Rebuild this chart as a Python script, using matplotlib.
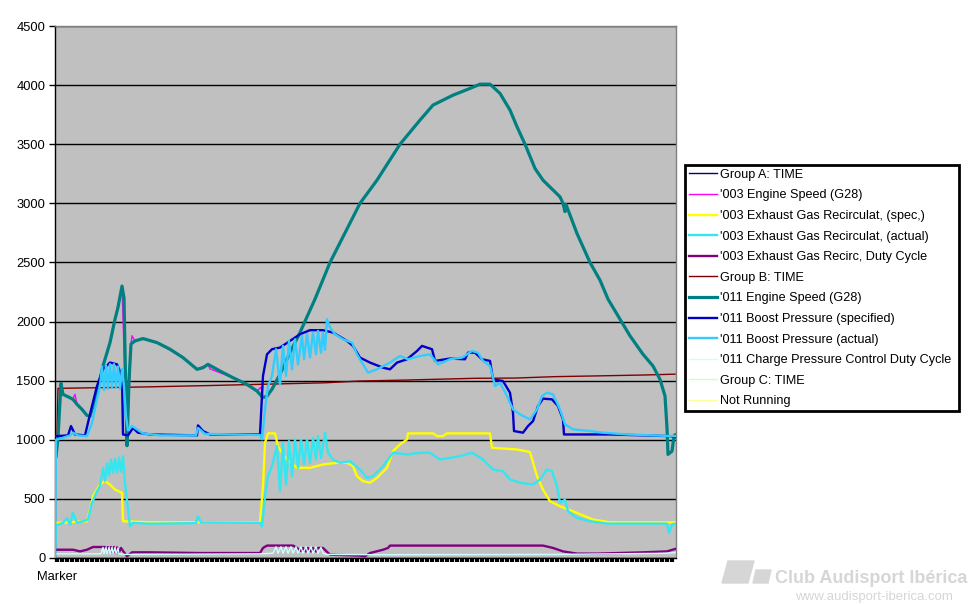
import matplotlib
matplotlib.use("Agg")
import matplotlib.pyplot as plt
from matplotlib.patches import Polygon

plt.rcParams['font.family'] = ['Liberation Sans', 'DejaVu Sans']

# eje x: numero de muestra
categoria = "Marker"
y_ticks = [0, 500, 1000, 1500, 2000, 2500, 3000, 3500, 4000, 4500]

# '011 Engine Speed (G28)
rpm_x = [1, 3, 6, 8, 13, 18, 22, 27, 32, 35, 42, 48, 55, 60, 63, 67, 69, 71, 72, 74, 76, 80, 88,
         102, 115, 128, 142, 148, 153, 165, 178, 192, 202, 208, 212, 217, 225, 235, 245, 252, 260,
         275, 305, 322, 345, 365, 378, 398, 415, 425, 435, 445, 455, 462, 470, 480, 488, 505, 508,
         510, 511, 522, 535, 545, 553, 565, 575, 588, 598, 605, 610, 612, 613, 617, 619, 620]
rpm_y = [860, 1020, 1477, 1384, 1364, 1342, 1300, 1257, 1206, 1200, 1398, 1624, 1822, 2020, 2120,
         2300, 2200, 1300, 950, 1500, 1810, 1836, 1856, 1822, 1766, 1695, 1596, 1610, 1638, 1582,
         1525, 1469, 1412, 1356, 1370, 1427, 1554, 1737, 1907, 2040, 2190, 2500, 3000, 3196, 3500,
         3704, 3831, 3915, 3972, 4008, 4008, 3930, 3789, 3648, 3500, 3295, 3196, 3055, 3000, 2930,
         2990, 2745, 2500, 2350, 2190, 2020, 1879, 1723, 1624, 1511, 1370, 1100, 876, 904, 1031, 1040]

# '003 Engine Speed (G28)
rpm3_x = [1, 3, 6, 8, 13, 18, 20, 22, 27, 32, 35, 42, 48, 55, 60, 67, 72, 76, 77, 80, 88, 102,
          128, 142, 153, 155, 178, 202, 206, 208, 212, 225, 245]
rpm3_y = [860, 1020, 1470, 1380, 1360, 1345, 1385, 1300, 1260, 1210, 1200, 1398, 1624, 1822, 2020,
          2300, 950, 1810, 1880, 1836, 1856, 1822, 1695, 1596, 1638, 1600, 1525, 1412, 1445, 1356,
          1370, 1554, 1907]

# '011 Boost Pressure (specified)
boost_sp_x = [0, 13, 16, 20, 30, 33, 37, 42, 48, 55, 62, 67, 68, 73, 78, 83, 95, 142, 143, 148,
              155, 205, 208, 212, 217, 225, 235, 245, 255, 268, 278, 292, 298, 305, 315, 328, 335,
              342, 352, 362, 367, 377, 380, 395, 410, 413, 420, 427, 435, 438, 448, 455, 458, 459,
              468, 473, 478, 483, 488, 497, 503, 508, 509, 555, 615, 620]
boost_sp_y = [1030, 1037, 1116, 1045, 1037, 1144, 1285, 1455, 1596, 1653, 1638, 1540, 1045, 1037,
              1100, 1060, 1045, 1037, 1122, 1074, 1045, 1045, 1540, 1723, 1766, 1780, 1836, 1893,
              1927, 1927, 1907, 1836, 1794, 1695, 1653, 1610, 1596, 1653, 1681, 1751, 1794, 1766,
              1667, 1687, 1681, 1737, 1737, 1681, 1667, 1511, 1497, 1398, 1229, 1074, 1060, 1116,
              1158, 1285, 1348, 1342, 1285, 1172, 1045, 1045, 1031, 1023]

# '011 Boost Pressure (actual)
boost_ac_x = [0, 1, 8, 15, 18, 23, 32, 37, 42, 45, 47, 49, 51, 53, 55, 57, 59, 61, 63, 65, 67, 69,
              71, 73, 77, 82, 88, 105, 141, 143, 150, 205, 207, 210, 213, 217, 221, 225, 228, 231,
              234, 237, 240, 243, 247, 249, 252, 255, 258, 261, 263, 266, 268, 270, 272, 275, 280,
              288, 297, 302, 313, 322, 335, 345, 353, 365, 375, 383, 395, 407, 417, 423, 428, 435,
              440, 445, 452, 458, 465, 475, 482, 487, 492, 498, 505, 510, 518, 535, 548, 572, 618, 620]
boost_ac_y = [0, 1000, 1017, 1037, 1060, 1037, 1031, 1144, 1342, 1455, 1620, 1420, 1630, 1430, 1640,
              1440, 1640, 1440, 1620, 1430, 1600, 1450, 1200, 1080, 1116, 1088, 1054, 1037, 1037,
              1100, 1050, 1040, 1003, 1257, 1455, 1540, 1766, 1469, 1794, 1540, 1836, 1596, 1850,
              1638, 1879, 1681, 1893, 1695, 1907, 1723, 1921, 1737, 1907, 1760, 2020, 1950, 1893,
              1850, 1822, 1723, 1568, 1596, 1653, 1709, 1681, 1709, 1723, 1638, 1681, 1695, 1751,
              1737, 1667, 1624, 1455, 1483, 1370, 1257, 1215, 1172, 1257, 1370, 1398, 1384, 1257,
              1130, 1088, 1074, 1060, 1045, 1031, 1031]

# '003 Exhaust Gas Recirculat, (spec,)
egr_sp_x = [2, 32, 35, 38, 45, 50, 55, 60, 67, 68, 95, 205, 208, 210, 213, 220, 223, 227, 232, 242,
            255, 268, 282, 292, 298, 302, 308, 315, 322, 332, 338, 345, 352, 353, 378, 382, 388, 392,
            435, 437, 462, 475, 482, 488, 495, 505, 522, 538, 555, 620]
egr_sp_y = [297, 311, 410, 523, 622, 650, 622, 579, 551, 311, 302, 302, 607, 975, 1054, 1054, 946,
            890, 833, 763, 763, 791, 805, 805, 777, 692, 650, 636, 678, 763, 904, 960, 1003, 1054,
            1054, 1031, 1031, 1054, 1054, 932, 918, 896, 692, 579, 480, 438, 381, 325, 302, 302]

# '003 Exhaust Gas Recirculat, (actual)
egr_ac_x = [0, 1, 3, 8, 12, 15, 18, 22, 28, 33, 37, 42, 45, 48, 50, 52, 54, 56, 58, 60, 62, 64, 66,
            68, 70, 73, 75, 78, 95, 141, 143, 146, 205, 207, 210, 213, 217, 222, 225, 228, 231, 234,
            237, 240, 243, 246, 249, 252, 255, 258, 261, 263, 266, 270, 273, 278, 285, 295, 305, 312,
            318, 328, 338, 352, 365, 375, 385, 405, 417, 428, 438, 448, 455, 465, 478, 485, 492, 497,
            502, 505, 510, 513, 522, 535, 552, 612, 614, 617, 620]
egr_ac_y = [0, 282, 282, 297, 339, 282, 381, 297, 311, 325, 466, 565, 607, 760, 650, 800, 700, 830,
            720, 840, 720, 850, 730, 860, 636, 410, 268, 297, 290, 295, 353, 300, 297, 268, 523, 692,
            777, 946, 565, 975, 622, 989, 692, 1003, 763, 1003, 791, 1003, 805, 1017, 833, 1031, 847,
            1060, 890, 833, 805, 819, 749, 678, 692, 777, 890, 876, 890, 890, 833, 862, 890, 833, 749,
            734, 664, 636, 622, 664, 749, 734, 607, 466, 494, 396, 339, 311, 291, 291, 212, 282, 291]

# '003 Exhaust Gas Recirc, Duty Cycle
egr_dc_x = [2, 18, 25, 32, 38, 45, 50, 52, 53, 55, 56, 58, 59, 61, 62, 64, 66, 68, 72, 77, 95, 145,
            205, 208, 212, 238, 242, 246, 248, 251, 253, 256, 258, 261, 263, 268, 275, 305, 310, 315,
            328, 333, 335, 488, 498, 508, 522, 542, 588, 612, 620]
egr_dc_y = [70, 70, 56, 70, 93, 93, 93, 60, 93, 50, 93, 45, 93, 40, 90, 50, 85, 60, 14, 48, 48, 42,
            42, 85, 105, 105, 85, 60, 85, 55, 85, 55, 85, 55, 85, 85, 28, 20, 14, 42, 70, 85, 105, 105,
            85, 56, 37, 37, 48, 56, 76]

# Group B: TIME
time_b_x = [2, 3, 40, 90, 150, 210, 270, 305, 350, 420, 460, 500, 540, 590, 620]
time_b_y = [1030, 1435, 1440, 1447, 1458, 1470, 1482, 1497, 1505, 1520, 1522, 1534, 1540, 1548, 1555]

# '011 Charge Pressure Control Duty Cycle
cpc_x = [2, 46, 48, 49, 51, 52, 54, 55, 57, 58, 60, 61, 63, 64, 70, 205, 218, 221, 223, 226, 228,
         231, 233, 236, 238, 241, 243, 246, 248, 251, 253, 256, 258, 261, 263, 266, 268, 272, 320,
         500, 610, 620]
cpc_y = [35, 35, 90, 35, 90, 35, 90, 35, 90, 35, 90, 35, 85, 35, 30, 35, 40, 95, 40, 95, 40, 95, 40,
         95, 40, 95, 40, 95, 40, 95, 40, 95, 40, 95, 40, 90, 40, 30, 28, 30, 40, 45]

# series sin datos visibles
time_a_x, time_a_y = [], []
time_c_x, time_c_y = [], []
not_run_x, not_run_y = [], []

fig = plt.figure(figsize=(9.7, 6.04), dpi=100)
ax = fig.add_axes([55/970, 46/604, 621/970, 532/604])
ax.set_facecolor('#C0C0C0')

series = [
    (time_a_x, time_a_y, 'Group A: TIME', '#000080', 1.0),
    (rpm3_x, rpm3_y, "'003 Engine Speed (G28)", '#FF00FF', 1.0),
    (egr_sp_x, egr_sp_y, "'003 Exhaust Gas Recirculat, (spec,)", '#FFFF00', 1.7),
    (egr_ac_x, egr_ac_y, "'003 Exhaust Gas Recirculat, (actual)", '#33E6F0', 1.7),
    (egr_dc_x, egr_dc_y, "'003 Exhaust Gas Recirc, Duty Cycle", '#800080', 1.7),
    (time_b_x, time_b_y, 'Group B: TIME', '#800000', 1.0),
    (rpm_x, rpm_y, "'011 Engine Speed (G28)", '#008080', 2.3),
    (boost_sp_x, boost_sp_y, "'011 Boost Pressure (specified)", '#0000CC', 1.7),
    (boost_ac_x, boost_ac_y, "'011 Boost Pressure (actual)", '#33CCFF', 1.7),
    (cpc_x, cpc_y, "'011 Charge Pressure Control Duty Cycle", '#CCFFFF', 1.0),
    (time_c_x, time_c_y, 'Group C: TIME', '#CCFFCC', 1.0),
    (not_run_x, not_run_y, 'Not Running', '#FFFF99', 1.0),
]
for i, (xs, ys, nombre, color, lw) in enumerate(series):
    ax.plot(xs, ys, color=color, lw=lw, label=nombre, zorder=3 + i * 0.01)

ax.set_xlim(0, 621)
ax.set_ylim(0, 4500)
ax.set_yticks(y_ticks)
ax.set_yticklabels([str(v) for v in y_ticks], fontsize=9.3)
ax.yaxis.grid(True, color='black', lw=1)
ax.set_axisbelow(True)

pos = [2.5 + 5 * k for k in range(124)]
ax.set_xticks(pos)
ax.set_xticklabels([categoria] + [''] * (len(pos) - 1), fontsize=9.3)
ax.tick_params(axis='x', direction='out', length=3.2, width=3.0, color='black', pad=6)
ax.tick_params(axis='y', direction='out', length=4, width=1, color='black', pad=3)

for lado in ['top', 'right']:
    ax.spines[lado].set_color('#808080')
    ax.spines[lado].set_linewidth(1)
for lado in ['left', 'bottom']:
    ax.spines[lado].set_color('black')
    ax.spines[lado].set_linewidth(1)

leg = ax.legend(loc='upper left', bbox_to_anchor=(685/970, 1 - 417/604, 274/970, 252/604),
                bbox_transform=fig.transFigure, mode='expand', fontsize=9.1, frameon=True,
                fancybox=False, framealpha=1, edgecolor='black', borderaxespad=0,
                handlelength=2.2, handletextpad=0.25, labelspacing=0.68, borderpad=0.3)
leg.get_frame().set_linewidth(2)

# marca de agua
gris = '#D6D6D6'
fig.patches.append(Polygon([(728/970, 1 - 561/604), (754/970, 1 - 561/604),
                            (748/970, 1 - 583/604), (722/970, 1 - 583/604)],
                           closed=True, color=gris, transform=fig.transFigure))
fig.patches.append(Polygon([(756/970, 1 - 570/604), (771/970, 1 - 570/604),
                            (768/970, 1 - 583/604), (753/970, 1 - 583/604)],
                           closed=True, color=gris, transform=fig.transFigure))
fig.text(967/970, 1 - 583/604, 'Club Audisport Ibérica', ha='right', va='baseline',
         fontsize=13, fontweight='bold', color=gris, fontstretch='condensed')
fig.text(953/970, 1 - 600/604, 'www.audisport-iberica.com', ha='right', va='baseline',
         fontsize=9.5, color=gris)

fig.savefig('out.png', dpi=100)
